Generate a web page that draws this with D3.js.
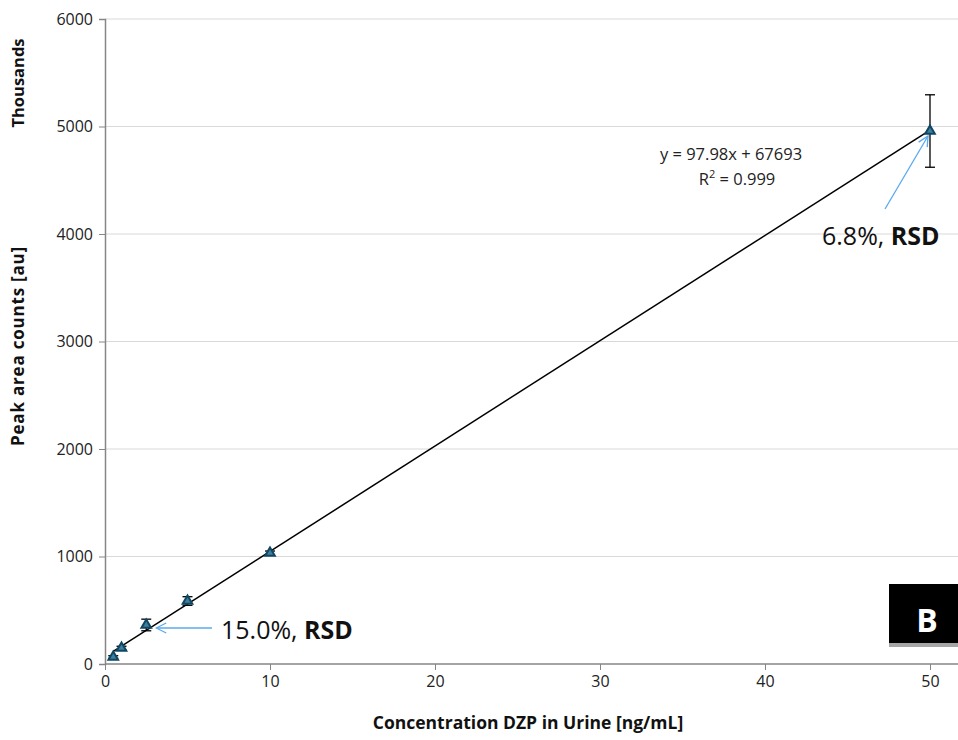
<!DOCTYPE html>
<html>
<head>
<meta charset="utf-8">
<script src="https://cdn.jsdelivr.net/npm/d3@7"></script>
<style>
  body { margin: 0; background: #fff; }
  svg { display: block; font-family: "Open Sans", "Noto Sans", sans-serif; }
</style>
</head>
<body>
<svg width="958" height="740"></svg>
<script>
// datos (pico en miles)
const conc = [0.5, 1, 2.5, 5, 10, 50];
const peakArea = [65, 149, 363, 586, 1033, 4958];
const errBar = [12, 16, 54, 40, 18, 337];
const xTicks = [0, 10, 20, 30, 40, 50];
const yTicks = [0, 1000, 2000, 3000, 4000, 5000, 6000];
const slope = 97.98, intercept = 67.693;

const svg = d3.select("svg");
const x = d3.scaleLinear().domain([0, 51.5]).range([105, 954.75]);
const y = d3.scaleLinear().domain([0, 6000]).range([664, 19]);

// grid
svg.append("g")
  .selectAll("line")
  .data(yTicks.slice(1))
  .enter()
  .append("line")
  .attr("x1", x(0)).attr("x2", 958)
  .attr("y1", (d) => y(d)).attr("y2", (d) => y(d))
  .attr("stroke", "#d9d9d9");

// ejes
const yAxis = svg.append("g")
  .attr("transform", `translate(${x(0)},0)`)
  .call(d3.axisLeft(y).tickValues(yTicks).tickSize(6).tickPadding(6).tickFormat(d3.format("d")));
const xAxis = svg.append("g")
  .attr("transform", `translate(0,${y(0)})`)
  .call(d3.axisBottom(x).tickValues(xTicks).tickSize(6).tickPadding(6));
xAxis.select(".domain").attr("d", `M${x(0)},0H958`);
[xAxis, yAxis].forEach((a) => {
  a.select(".domain").attr("stroke", "#868686").attr("stroke-width", 1.5);
  a.selectAll(".tick line").attr("stroke", "#868686");
  a.selectAll("text").attr("font-size", 16).attr("fill", "#222")
    .attr("font-family", "'Open Sans', sans-serif");
});

// linea de tendencia
svg.append("line")
  .attr("x1", x(conc[0])).attr("y1", y(slope * conc[0] + intercept))
  .attr("x2", x(conc[conc.length - 1])).attr("y2", y(slope * conc[conc.length - 1] + intercept))
  .attr("stroke", "#000").attr("stroke-width", 1.5);

// barras de error
const pts = conc.map((c, i) => ({ c, v: peakArea[i], e: errBar[i] }));
const eb = svg.append("g").attr("stroke", "#000").attr("stroke-width", 1.3);
pts.forEach((d) => {
  eb.append("line").attr("x1", x(d.c)).attr("x2", x(d.c)).attr("y1", y(d.v - d.e)).attr("y2", y(d.v + d.e));
  [d.v - d.e, d.v + d.e].forEach((v) => {
    eb.append("line").attr("x1", x(d.c) - 5).attr("x2", x(d.c) + 5).attr("y1", y(v)).attr("y2", y(v));
  });
});

// marcadores
svg.append("g")
  .selectAll("path")
  .data(pts)
  .enter()
  .append("path")
  .attr("d", d3.symbol().type(d3.symbolTriangle).size(40))
  .attr("transform", (d) => `translate(${x(d.c)},${y(d.v)})`)
  .attr("fill", "#3f7e9c")
  .attr("stroke", "#0f4763")
  .attr("stroke-width", 2);

// ecuacion
const eq = svg.append("g").attr("font-size", 16.5).attr("fill", "#222").attr("text-anchor", "middle");
eq.append("text").attr("x", 731).attr("y", 160).text("y = 97.98x + 67693");
const r2 = eq.append("text").attr("x", 737).attr("y", 185);
r2.append("tspan").text("R");
r2.append("tspan").attr("font-size", 11).attr("dy", -7).text("2");
r2.append("tspan").attr("dy", 7).text(" = 0.999");

// flechas
svg.append("defs").append("marker")
  .attr("id", "arr").attr("viewBox", "0 0 12 12").attr("refX", 11).attr("refY", 6)
  .attr("markerWidth", 12).attr("markerHeight", 12).attr("markerUnits", "userSpaceOnUse")
  .attr("orient", "auto")
  .append("path").attr("d", "M1,1L11,6L1,11").attr("fill", "none")
  .attr("stroke", "#5aa9f0").attr("stroke-width", 1.3);

svg.append("line")
  .attr("x1", 885).attr("y1", 209).attr("x2", x(50) - 2).attr("y2", y(peakArea[5]) + 5)
  .attr("stroke", "#5aa9f0").attr("stroke-width", 1.3).attr("marker-end", "url(#arr)");
svg.append("line")
  .attr("x1", 212).attr("y1", 628).attr("x2", x(2.5) + 10).attr("y2", 628)
  .attr("stroke", "#5aa9f0").attr("stroke-width", 1.3).attr("marker-end", "url(#arr)");

// etiquetas RSD
function rsdLabel(xp, yp, pct) {
  const t = svg.append("text").attr("x", xp).attr("y", yp).attr("font-size", 25).attr("fill", "#111");
  t.append("tspan").text(pct + ", ");
  t.append("tspan").attr("font-weight", "bold").text("RSD");
}
rsdLabel(822, 245, "6.8%");
rsdLabel(221, 639, "15.0%");

// recuadro B
svg.append("rect").attr("x", 889).attr("y", 643).attr("width", 69).attr("height", 4).attr("fill", "#a6a6a6");
svg.append("rect").attr("x", 889).attr("y", 584).attr("width", 69).attr("height", 59).attr("fill", "#000");
svg.append("text").attr("x", 927).attr("y", 632).attr("text-anchor", "middle")
  .attr("font-size", 32).attr("font-weight", "bold").attr("fill", "#fff").text("B");

// titulos de ejes
svg.append("text")
  .attr("transform", "translate(24,83) rotate(-90)")
  .attr("text-anchor", "middle").attr("font-size", 16.5).attr("font-weight", "bold").attr("fill", "#111")
  .text("Thousands");
svg.append("text")
  .attr("transform", "translate(24,346) rotate(-90)")
  .attr("text-anchor", "middle").attr("font-size", 17).attr("font-weight", "bold").attr("fill", "#111")
  .attr("letter-spacing", 0.8)
  .text("Peak area counts [au]");
svg.append("text")
  .attr("x", 528).attr("y", 729)
  .attr("text-anchor", "middle").attr("font-size", 17.5).attr("font-weight", "bold").attr("fill", "#111")
  .text("Concentration DZP in Urine [ng/mL]");
</script>
</body>
</html>
